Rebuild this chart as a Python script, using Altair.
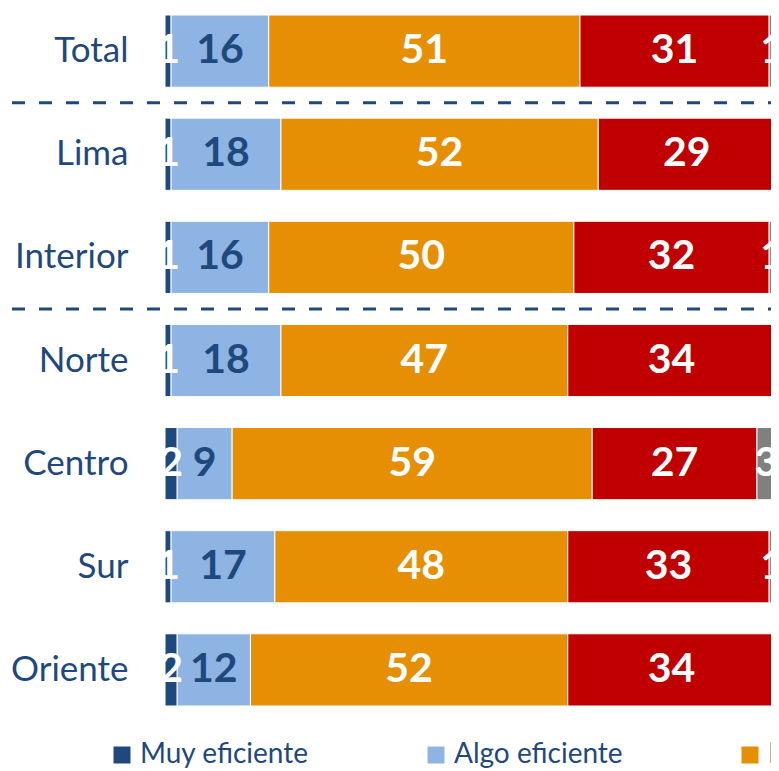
import altair as alt
import pandas as pd

categories = ["Total", "Lima", "Interior", "Norte", "Centro", "Sur", "Oriente"]
series = ["Muy eficiente", "Algo eficiente", "Poco eficiente", "Nada eficiente", "No sabe / No precisa"]
muy = [1, 1, 1, 1, 2, 1, 2]
algo = [16, 18, 16, 18, 9, 17, 12]
poco = [51, 52, 50, 47, 59, 48, 52]
nada = [31, 29, 32, 34, 27, 33, 34]
ns = [1, 0, 1, 0, 3, 1, 0]
colors = ["#1F497D", "#8DB4E2", "#E68F04", "#C00000", "#808080"]
text_dark = "#1F497D"

rows = []
for i, c in enumerate(categories):
    for j, (s, vals) in enumerate(zip(series, [muy, algo, poco, nada, ns])):
        v = vals[i]
        rows.append({"cat": c, "serie": s, "val": v, "ord": j,
                     "lab": str(v) if v > 0 else "",
                     "tcol": text_dark if j == 1 else "#FFFFFF"})
df = pd.DataFrame(rows)

seps = pd.DataFrame({"cat": ["Total", "Interior"]})

FONT = "Lato"
W = 606

yenc = alt.Y("cat:N", sort=categories, title=None,
             scale=alt.Scale(paddingInner=0.3, paddingOuter=0.068),
             axis=alt.Axis(domain=False, ticks=False, labelPadding=37,
                           labelFontSize=35, labelColor=text_dark, labelFont=FONT))
xscale = alt.Scale(domain=[0, 99.3], nice=False, zero=True)

bars = alt.Chart(df).mark_bar(stroke="white", strokeWidth=1, clip=True).encode(
    y=yenc,
    x=alt.X("val:Q", stack="zero", scale=xscale, axis=None),
    color=alt.Color("serie:N", sort=series,
                    scale=alt.Scale(domain=series, range=colors),
                    legend=alt.Legend(title=None, orient="none", legendX=-57, legendY=733,
                                      direction="horizontal", columns=5, columnPadding=113,
                                      symbolType="square", symbolSize=289, symbolStrokeWidth=0,
                                      labelFontSize=28, labelColor=text_dark, labelFont=FONT,
                                      labelOffset=4, labelLimit=400)),
    order=alt.Order("ord:Q"),
)

labels = alt.Chart(df).mark_text(font=FONT, fontWeight="bold", fontSize=41,
                                 baseline="middle", align="center", clip=True).encode(
    y=alt.Y("cat:N", sort=categories),
    x=alt.X("val:Q", stack="zero", bandPosition=0.5, scale=xscale),
    text="lab:N",
    color=alt.Color("tcol:N", scale=None),
    order=alt.Order("ord:Q"),
)

rules = alt.Chart(seps).mark_rule(color=text_dark, strokeWidth=3, strokeDash=[13, 14],
                                  yOffset=15.5).encode(
    y=alt.Y("cat:N", sort=categories, bandPosition=1),
    x=alt.value(-153),
    x2=alt.value(W),
)

chart = alt.layer(bars, labels, rules).resolve_scale(color="independent").properties(
    width=W, height=705,
    padding={"left": 157, "top": 0, "right": 0, "bottom": 58},
    autosize=alt.AutoSizeParams(type="none"),
).configure_view(stroke=None)

chart.save("out.html", embed_options={"renderer": "svg", "actions": False})
